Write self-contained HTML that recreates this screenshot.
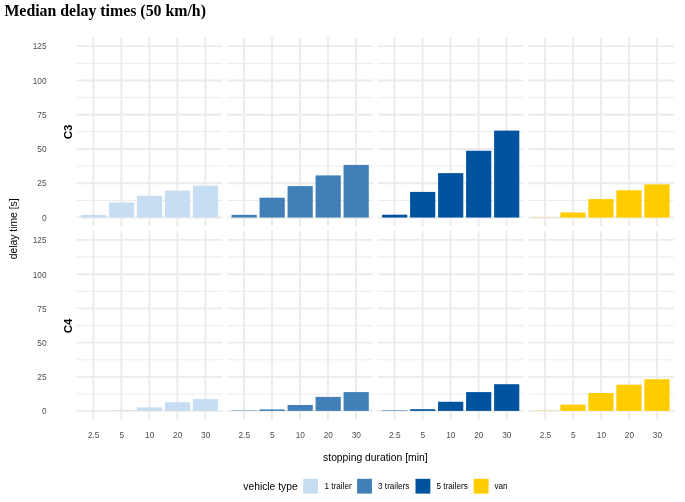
<!DOCTYPE html>
<html><head><meta charset="utf-8"><title>Median delay times (50 km/h)</title>
<style>html,body{margin:0;padding:0;background:#fff}svg{display:block;will-change:transform}</style></head>
<body>
<svg width="685" height="502" viewBox="0 0 685 502">
<rect width="685" height="502" fill="#fff"/>
<text x="4.4" y="16" font-family="'Liberation Serif',serif" font-weight="bold" font-size="15.85" fill="#000">Median delay times (50 km/h)</text>
<g><line x1="76.60" x2="222.25" y1="200.45" y2="200.45" stroke="#ebebeb" stroke-width="1.0"/><line x1="76.60" x2="222.25" y1="166.05" y2="166.05" stroke="#ebebeb" stroke-width="1.0"/><line x1="76.60" x2="222.25" y1="131.60" y2="131.60" stroke="#ebebeb" stroke-width="1.0"/><line x1="76.60" x2="222.25" y1="97.40" y2="97.40" stroke="#ebebeb" stroke-width="1.0"/><line x1="76.60" x2="222.25" y1="63.37" y2="63.37" stroke="#ebebeb" stroke-width="1.0"/><line x1="76.60" x2="222.25" y1="217.50" y2="217.50" stroke="#ebebeb" stroke-width="1.8"/><line x1="76.60" x2="222.25" y1="183.27" y2="183.27" stroke="#ebebeb" stroke-width="1.8"/><line x1="76.60" x2="222.25" y1="149.00" y2="149.00" stroke="#ebebeb" stroke-width="1.8"/><line x1="76.60" x2="222.25" y1="114.75" y2="114.75" stroke="#ebebeb" stroke-width="1.8"/><line x1="76.60" x2="222.25" y1="80.50" y2="80.50" stroke="#ebebeb" stroke-width="1.8"/><line x1="76.60" x2="222.25" y1="46.15" y2="46.15" stroke="#ebebeb" stroke-width="1.8"/><line x1="93.40" x2="93.40" y1="37.70" y2="226.50" stroke="#ebebeb" stroke-width="1.9"/><line x1="121.40" x2="121.40" y1="37.70" y2="226.50" stroke="#ebebeb" stroke-width="1.9"/><line x1="149.40" x2="149.40" y1="37.70" y2="226.50" stroke="#ebebeb" stroke-width="1.9"/><line x1="177.40" x2="177.40" y1="37.70" y2="226.50" stroke="#ebebeb" stroke-width="1.9"/><line x1="205.40" x2="205.40" y1="37.70" y2="226.50" stroke="#ebebeb" stroke-width="1.9"/><rect x="80.92" y="214.90" width="25.20" height="2.65" fill="#C7DDF2"/><rect x="108.92" y="202.40" width="25.20" height="15.15" fill="#C7DDF2"/><rect x="136.92" y="195.80" width="25.20" height="21.75" fill="#C7DDF2"/><rect x="164.92" y="190.60" width="25.20" height="26.95" fill="#C7DDF2"/><rect x="192.92" y="185.70" width="25.20" height="31.85" fill="#C7DDF2"/></g>
<g><line x1="227.17" x2="372.82" y1="200.45" y2="200.45" stroke="#ebebeb" stroke-width="1.0"/><line x1="227.17" x2="372.82" y1="166.05" y2="166.05" stroke="#ebebeb" stroke-width="1.0"/><line x1="227.17" x2="372.82" y1="131.60" y2="131.60" stroke="#ebebeb" stroke-width="1.0"/><line x1="227.17" x2="372.82" y1="97.40" y2="97.40" stroke="#ebebeb" stroke-width="1.0"/><line x1="227.17" x2="372.82" y1="63.37" y2="63.37" stroke="#ebebeb" stroke-width="1.0"/><line x1="227.17" x2="372.82" y1="217.50" y2="217.50" stroke="#ebebeb" stroke-width="1.8"/><line x1="227.17" x2="372.82" y1="183.27" y2="183.27" stroke="#ebebeb" stroke-width="1.8"/><line x1="227.17" x2="372.82" y1="149.00" y2="149.00" stroke="#ebebeb" stroke-width="1.8"/><line x1="227.17" x2="372.82" y1="114.75" y2="114.75" stroke="#ebebeb" stroke-width="1.8"/><line x1="227.17" x2="372.82" y1="80.50" y2="80.50" stroke="#ebebeb" stroke-width="1.8"/><line x1="227.17" x2="372.82" y1="46.15" y2="46.15" stroke="#ebebeb" stroke-width="1.8"/><line x1="243.97" x2="243.97" y1="37.70" y2="226.50" stroke="#ebebeb" stroke-width="1.9"/><line x1="271.97" x2="271.97" y1="37.70" y2="226.50" stroke="#ebebeb" stroke-width="1.9"/><line x1="299.97" x2="299.97" y1="37.70" y2="226.50" stroke="#ebebeb" stroke-width="1.9"/><line x1="327.97" x2="327.97" y1="37.70" y2="226.50" stroke="#ebebeb" stroke-width="1.9"/><line x1="355.97" x2="355.97" y1="37.70" y2="226.50" stroke="#ebebeb" stroke-width="1.9"/><rect x="231.57" y="214.80" width="25.20" height="2.75" fill="#407FB7"/><rect x="259.57" y="197.70" width="25.20" height="19.85" fill="#407FB7"/><rect x="287.57" y="186.10" width="25.20" height="31.45" fill="#407FB7"/><rect x="315.57" y="175.40" width="25.20" height="42.15" fill="#407FB7"/><rect x="343.57" y="164.90" width="25.20" height="52.65" fill="#407FB7"/></g>
<g><line x1="377.74" x2="523.39" y1="200.45" y2="200.45" stroke="#ebebeb" stroke-width="1.0"/><line x1="377.74" x2="523.39" y1="166.05" y2="166.05" stroke="#ebebeb" stroke-width="1.0"/><line x1="377.74" x2="523.39" y1="131.60" y2="131.60" stroke="#ebebeb" stroke-width="1.0"/><line x1="377.74" x2="523.39" y1="97.40" y2="97.40" stroke="#ebebeb" stroke-width="1.0"/><line x1="377.74" x2="523.39" y1="63.37" y2="63.37" stroke="#ebebeb" stroke-width="1.0"/><line x1="377.74" x2="523.39" y1="217.50" y2="217.50" stroke="#ebebeb" stroke-width="1.8"/><line x1="377.74" x2="523.39" y1="183.27" y2="183.27" stroke="#ebebeb" stroke-width="1.8"/><line x1="377.74" x2="523.39" y1="149.00" y2="149.00" stroke="#ebebeb" stroke-width="1.8"/><line x1="377.74" x2="523.39" y1="114.75" y2="114.75" stroke="#ebebeb" stroke-width="1.8"/><line x1="377.74" x2="523.39" y1="80.50" y2="80.50" stroke="#ebebeb" stroke-width="1.8"/><line x1="377.74" x2="523.39" y1="46.15" y2="46.15" stroke="#ebebeb" stroke-width="1.8"/><line x1="394.54" x2="394.54" y1="37.70" y2="226.50" stroke="#ebebeb" stroke-width="1.9"/><line x1="422.54" x2="422.54" y1="37.70" y2="226.50" stroke="#ebebeb" stroke-width="1.9"/><line x1="450.54" x2="450.54" y1="37.70" y2="226.50" stroke="#ebebeb" stroke-width="1.9"/><line x1="478.54" x2="478.54" y1="37.70" y2="226.50" stroke="#ebebeb" stroke-width="1.9"/><line x1="506.54" x2="506.54" y1="37.70" y2="226.50" stroke="#ebebeb" stroke-width="1.9"/><rect x="382.09" y="214.70" width="25.20" height="2.85" fill="#00549F"/><rect x="410.09" y="191.90" width="25.20" height="25.65" fill="#00549F"/><rect x="438.09" y="173.10" width="25.20" height="44.45" fill="#00549F"/><rect x="466.09" y="150.75" width="25.20" height="66.80" fill="#00549F"/><rect x="494.09" y="130.60" width="25.20" height="86.95" fill="#00549F"/></g>
<g><line x1="528.31" x2="673.96" y1="200.45" y2="200.45" stroke="#ebebeb" stroke-width="1.0"/><line x1="528.31" x2="673.96" y1="166.05" y2="166.05" stroke="#ebebeb" stroke-width="1.0"/><line x1="528.31" x2="673.96" y1="131.60" y2="131.60" stroke="#ebebeb" stroke-width="1.0"/><line x1="528.31" x2="673.96" y1="97.40" y2="97.40" stroke="#ebebeb" stroke-width="1.0"/><line x1="528.31" x2="673.96" y1="63.37" y2="63.37" stroke="#ebebeb" stroke-width="1.0"/><line x1="528.31" x2="673.96" y1="217.50" y2="217.50" stroke="#ebebeb" stroke-width="1.8"/><line x1="528.31" x2="673.96" y1="183.27" y2="183.27" stroke="#ebebeb" stroke-width="1.8"/><line x1="528.31" x2="673.96" y1="149.00" y2="149.00" stroke="#ebebeb" stroke-width="1.8"/><line x1="528.31" x2="673.96" y1="114.75" y2="114.75" stroke="#ebebeb" stroke-width="1.8"/><line x1="528.31" x2="673.96" y1="80.50" y2="80.50" stroke="#ebebeb" stroke-width="1.8"/><line x1="528.31" x2="673.96" y1="46.15" y2="46.15" stroke="#ebebeb" stroke-width="1.8"/><line x1="545.11" x2="545.11" y1="37.70" y2="226.50" stroke="#ebebeb" stroke-width="1.9"/><line x1="573.11" x2="573.11" y1="37.70" y2="226.50" stroke="#ebebeb" stroke-width="1.9"/><line x1="601.11" x2="601.11" y1="37.70" y2="226.50" stroke="#ebebeb" stroke-width="1.9"/><line x1="629.11" x2="629.11" y1="37.70" y2="226.50" stroke="#ebebeb" stroke-width="1.9"/><line x1="657.11" x2="657.11" y1="37.70" y2="226.50" stroke="#ebebeb" stroke-width="1.9"/><rect x="532.36" y="217.33" width="25.20" height="0.22" fill="#FFCC00"/><rect x="560.36" y="212.50" width="25.20" height="5.05" fill="#FFCC00"/><rect x="588.36" y="199.10" width="25.20" height="18.45" fill="#FFCC00"/><rect x="616.36" y="190.30" width="25.20" height="27.25" fill="#FFCC00"/><rect x="644.36" y="184.40" width="25.20" height="33.15" fill="#FFCC00"/></g>
<text x="46.6" y="220.50" text-anchor="end" font-family="'Liberation Sans',sans-serif" font-size="8.3" fill="#4d4d4d">0</text>
<text x="46.6" y="186.27" text-anchor="end" font-family="'Liberation Sans',sans-serif" font-size="8.3" fill="#4d4d4d">25</text>
<text x="46.6" y="152.00" text-anchor="end" font-family="'Liberation Sans',sans-serif" font-size="8.3" fill="#4d4d4d">50</text>
<text x="46.6" y="117.75" text-anchor="end" font-family="'Liberation Sans',sans-serif" font-size="8.3" fill="#4d4d4d">75</text>
<text x="46.6" y="83.50" text-anchor="end" font-family="'Liberation Sans',sans-serif" font-size="8.3" fill="#4d4d4d">100</text>
<text x="46.6" y="49.15" text-anchor="end" font-family="'Liberation Sans',sans-serif" font-size="8.3" fill="#4d4d4d">125</text>
<text transform="translate(72.2,131.90) rotate(-90)" text-anchor="middle" font-family="'Liberation Sans',sans-serif" font-weight="bold" font-size="11.5" fill="#000">C3</text>
<g><line x1="76.60" x2="222.25" y1="394.00" y2="394.00" stroke="#ebebeb" stroke-width="1.0"/><line x1="76.60" x2="222.25" y1="359.80" y2="359.80" stroke="#ebebeb" stroke-width="1.0"/><line x1="76.60" x2="222.25" y1="325.50" y2="325.50" stroke="#ebebeb" stroke-width="1.0"/><line x1="76.60" x2="222.25" y1="291.30" y2="291.30" stroke="#ebebeb" stroke-width="1.0"/><line x1="76.60" x2="222.25" y1="256.95" y2="256.95" stroke="#ebebeb" stroke-width="1.0"/><line x1="76.60" x2="222.25" y1="410.85" y2="410.85" stroke="#ebebeb" stroke-width="1.8"/><line x1="76.60" x2="222.25" y1="376.80" y2="376.80" stroke="#ebebeb" stroke-width="1.8"/><line x1="76.60" x2="222.25" y1="342.70" y2="342.70" stroke="#ebebeb" stroke-width="1.8"/><line x1="76.60" x2="222.25" y1="308.30" y2="308.30" stroke="#ebebeb" stroke-width="1.8"/><line x1="76.60" x2="222.25" y1="274.25" y2="274.25" stroke="#ebebeb" stroke-width="1.8"/><line x1="76.60" x2="222.25" y1="239.93" y2="239.93" stroke="#ebebeb" stroke-width="1.8"/><line x1="93.40" x2="93.40" y1="231.00" y2="419.90" stroke="#ebebeb" stroke-width="1.9"/><line x1="121.40" x2="121.40" y1="231.00" y2="419.90" stroke="#ebebeb" stroke-width="1.9"/><line x1="149.40" x2="149.40" y1="231.00" y2="419.90" stroke="#ebebeb" stroke-width="1.9"/><line x1="177.40" x2="177.40" y1="231.00" y2="419.90" stroke="#ebebeb" stroke-width="1.9"/><line x1="205.40" x2="205.40" y1="231.00" y2="419.90" stroke="#ebebeb" stroke-width="1.9"/><rect x="108.92" y="410.40" width="25.20" height="0.50" fill="#C7DDF2"/><rect x="136.92" y="407.40" width="25.20" height="3.50" fill="#C7DDF2"/><rect x="164.92" y="402.20" width="25.20" height="8.70" fill="#C7DDF2"/><rect x="192.92" y="399.10" width="25.20" height="11.80" fill="#C7DDF2"/></g>
<g><line x1="227.17" x2="372.82" y1="394.00" y2="394.00" stroke="#ebebeb" stroke-width="1.0"/><line x1="227.17" x2="372.82" y1="359.80" y2="359.80" stroke="#ebebeb" stroke-width="1.0"/><line x1="227.17" x2="372.82" y1="325.50" y2="325.50" stroke="#ebebeb" stroke-width="1.0"/><line x1="227.17" x2="372.82" y1="291.30" y2="291.30" stroke="#ebebeb" stroke-width="1.0"/><line x1="227.17" x2="372.82" y1="256.95" y2="256.95" stroke="#ebebeb" stroke-width="1.0"/><line x1="227.17" x2="372.82" y1="410.85" y2="410.85" stroke="#ebebeb" stroke-width="1.8"/><line x1="227.17" x2="372.82" y1="376.80" y2="376.80" stroke="#ebebeb" stroke-width="1.8"/><line x1="227.17" x2="372.82" y1="342.70" y2="342.70" stroke="#ebebeb" stroke-width="1.8"/><line x1="227.17" x2="372.82" y1="308.30" y2="308.30" stroke="#ebebeb" stroke-width="1.8"/><line x1="227.17" x2="372.82" y1="274.25" y2="274.25" stroke="#ebebeb" stroke-width="1.8"/><line x1="227.17" x2="372.82" y1="239.93" y2="239.93" stroke="#ebebeb" stroke-width="1.8"/><line x1="243.97" x2="243.97" y1="231.00" y2="419.90" stroke="#ebebeb" stroke-width="1.9"/><line x1="271.97" x2="271.97" y1="231.00" y2="419.90" stroke="#ebebeb" stroke-width="1.9"/><line x1="299.97" x2="299.97" y1="231.00" y2="419.90" stroke="#ebebeb" stroke-width="1.9"/><line x1="327.97" x2="327.97" y1="231.00" y2="419.90" stroke="#ebebeb" stroke-width="1.9"/><line x1="355.97" x2="355.97" y1="231.00" y2="419.90" stroke="#ebebeb" stroke-width="1.9"/><rect x="231.57" y="410.50" width="25.20" height="0.40" fill="#407FB7"/><rect x="259.57" y="409.40" width="25.20" height="1.50" fill="#407FB7"/><rect x="287.57" y="405.00" width="25.20" height="5.90" fill="#407FB7"/><rect x="315.57" y="396.90" width="25.20" height="14.00" fill="#407FB7"/><rect x="343.57" y="392.10" width="25.20" height="18.80" fill="#407FB7"/></g>
<g><line x1="377.74" x2="523.39" y1="394.00" y2="394.00" stroke="#ebebeb" stroke-width="1.0"/><line x1="377.74" x2="523.39" y1="359.80" y2="359.80" stroke="#ebebeb" stroke-width="1.0"/><line x1="377.74" x2="523.39" y1="325.50" y2="325.50" stroke="#ebebeb" stroke-width="1.0"/><line x1="377.74" x2="523.39" y1="291.30" y2="291.30" stroke="#ebebeb" stroke-width="1.0"/><line x1="377.74" x2="523.39" y1="256.95" y2="256.95" stroke="#ebebeb" stroke-width="1.0"/><line x1="377.74" x2="523.39" y1="410.85" y2="410.85" stroke="#ebebeb" stroke-width="1.8"/><line x1="377.74" x2="523.39" y1="376.80" y2="376.80" stroke="#ebebeb" stroke-width="1.8"/><line x1="377.74" x2="523.39" y1="342.70" y2="342.70" stroke="#ebebeb" stroke-width="1.8"/><line x1="377.74" x2="523.39" y1="308.30" y2="308.30" stroke="#ebebeb" stroke-width="1.8"/><line x1="377.74" x2="523.39" y1="274.25" y2="274.25" stroke="#ebebeb" stroke-width="1.8"/><line x1="377.74" x2="523.39" y1="239.93" y2="239.93" stroke="#ebebeb" stroke-width="1.8"/><line x1="394.54" x2="394.54" y1="231.00" y2="419.90" stroke="#ebebeb" stroke-width="1.9"/><line x1="422.54" x2="422.54" y1="231.00" y2="419.90" stroke="#ebebeb" stroke-width="1.9"/><line x1="450.54" x2="450.54" y1="231.00" y2="419.90" stroke="#ebebeb" stroke-width="1.9"/><line x1="478.54" x2="478.54" y1="231.00" y2="419.90" stroke="#ebebeb" stroke-width="1.9"/><line x1="506.54" x2="506.54" y1="231.00" y2="419.90" stroke="#ebebeb" stroke-width="1.9"/><rect x="382.09" y="410.50" width="25.20" height="0.40" fill="#00549F"/><rect x="410.09" y="409.20" width="25.20" height="1.70" fill="#00549F"/><rect x="438.09" y="401.75" width="25.20" height="9.15" fill="#00549F"/><rect x="466.09" y="392.10" width="25.20" height="18.80" fill="#00549F"/><rect x="494.09" y="384.20" width="25.20" height="26.70" fill="#00549F"/></g>
<g><line x1="528.31" x2="673.96" y1="394.00" y2="394.00" stroke="#ebebeb" stroke-width="1.0"/><line x1="528.31" x2="673.96" y1="359.80" y2="359.80" stroke="#ebebeb" stroke-width="1.0"/><line x1="528.31" x2="673.96" y1="325.50" y2="325.50" stroke="#ebebeb" stroke-width="1.0"/><line x1="528.31" x2="673.96" y1="291.30" y2="291.30" stroke="#ebebeb" stroke-width="1.0"/><line x1="528.31" x2="673.96" y1="256.95" y2="256.95" stroke="#ebebeb" stroke-width="1.0"/><line x1="528.31" x2="673.96" y1="410.85" y2="410.85" stroke="#ebebeb" stroke-width="1.8"/><line x1="528.31" x2="673.96" y1="376.80" y2="376.80" stroke="#ebebeb" stroke-width="1.8"/><line x1="528.31" x2="673.96" y1="342.70" y2="342.70" stroke="#ebebeb" stroke-width="1.8"/><line x1="528.31" x2="673.96" y1="308.30" y2="308.30" stroke="#ebebeb" stroke-width="1.8"/><line x1="528.31" x2="673.96" y1="274.25" y2="274.25" stroke="#ebebeb" stroke-width="1.8"/><line x1="528.31" x2="673.96" y1="239.93" y2="239.93" stroke="#ebebeb" stroke-width="1.8"/><line x1="545.11" x2="545.11" y1="231.00" y2="419.90" stroke="#ebebeb" stroke-width="1.9"/><line x1="573.11" x2="573.11" y1="231.00" y2="419.90" stroke="#ebebeb" stroke-width="1.9"/><line x1="601.11" x2="601.11" y1="231.00" y2="419.90" stroke="#ebebeb" stroke-width="1.9"/><line x1="629.11" x2="629.11" y1="231.00" y2="419.90" stroke="#ebebeb" stroke-width="1.9"/><line x1="657.11" x2="657.11" y1="231.00" y2="419.90" stroke="#ebebeb" stroke-width="1.9"/><rect x="532.36" y="410.68" width="25.20" height="0.22" fill="#FFCC00"/><rect x="560.36" y="404.60" width="25.20" height="6.30" fill="#FFCC00"/><rect x="588.36" y="393.00" width="25.20" height="17.90" fill="#FFCC00"/><rect x="616.36" y="384.70" width="25.20" height="26.20" fill="#FFCC00"/><rect x="644.36" y="379.20" width="25.20" height="31.70" fill="#FFCC00"/></g>
<text x="46.6" y="414.25" text-anchor="end" font-family="'Liberation Sans',sans-serif" font-size="8.3" fill="#4d4d4d">0</text>
<text x="46.6" y="380.20" text-anchor="end" font-family="'Liberation Sans',sans-serif" font-size="8.3" fill="#4d4d4d">25</text>
<text x="46.6" y="346.10" text-anchor="end" font-family="'Liberation Sans',sans-serif" font-size="8.3" fill="#4d4d4d">50</text>
<text x="46.6" y="311.70" text-anchor="end" font-family="'Liberation Sans',sans-serif" font-size="8.3" fill="#4d4d4d">75</text>
<text x="46.6" y="277.65" text-anchor="end" font-family="'Liberation Sans',sans-serif" font-size="8.3" fill="#4d4d4d">100</text>
<text x="46.6" y="243.33" text-anchor="end" font-family="'Liberation Sans',sans-serif" font-size="8.3" fill="#4d4d4d">125</text>
<text transform="translate(72.2,325.85) rotate(-90)" text-anchor="middle" font-family="'Liberation Sans',sans-serif" font-weight="bold" font-size="11.5" fill="#000">C4</text>
<text x="93.70" y="437.9" text-anchor="middle" font-family="'Liberation Sans',sans-serif" font-size="8.3" fill="#4d4d4d">2.5</text>
<text x="121.70" y="437.9" text-anchor="middle" font-family="'Liberation Sans',sans-serif" font-size="8.3" fill="#4d4d4d">5</text>
<text x="149.70" y="437.9" text-anchor="middle" font-family="'Liberation Sans',sans-serif" font-size="8.3" fill="#4d4d4d">10</text>
<text x="177.70" y="437.9" text-anchor="middle" font-family="'Liberation Sans',sans-serif" font-size="8.3" fill="#4d4d4d">20</text>
<text x="205.70" y="437.9" text-anchor="middle" font-family="'Liberation Sans',sans-serif" font-size="8.3" fill="#4d4d4d">30</text>
<text x="244.27" y="437.9" text-anchor="middle" font-family="'Liberation Sans',sans-serif" font-size="8.3" fill="#4d4d4d">2.5</text>
<text x="272.27" y="437.9" text-anchor="middle" font-family="'Liberation Sans',sans-serif" font-size="8.3" fill="#4d4d4d">5</text>
<text x="300.27" y="437.9" text-anchor="middle" font-family="'Liberation Sans',sans-serif" font-size="8.3" fill="#4d4d4d">10</text>
<text x="328.27" y="437.9" text-anchor="middle" font-family="'Liberation Sans',sans-serif" font-size="8.3" fill="#4d4d4d">20</text>
<text x="356.27" y="437.9" text-anchor="middle" font-family="'Liberation Sans',sans-serif" font-size="8.3" fill="#4d4d4d">30</text>
<text x="394.84" y="437.9" text-anchor="middle" font-family="'Liberation Sans',sans-serif" font-size="8.3" fill="#4d4d4d">2.5</text>
<text x="422.84" y="437.9" text-anchor="middle" font-family="'Liberation Sans',sans-serif" font-size="8.3" fill="#4d4d4d">5</text>
<text x="450.84" y="437.9" text-anchor="middle" font-family="'Liberation Sans',sans-serif" font-size="8.3" fill="#4d4d4d">10</text>
<text x="478.84" y="437.9" text-anchor="middle" font-family="'Liberation Sans',sans-serif" font-size="8.3" fill="#4d4d4d">20</text>
<text x="506.84" y="437.9" text-anchor="middle" font-family="'Liberation Sans',sans-serif" font-size="8.3" fill="#4d4d4d">30</text>
<text x="545.41" y="437.9" text-anchor="middle" font-family="'Liberation Sans',sans-serif" font-size="8.3" fill="#4d4d4d">2.5</text>
<text x="573.41" y="437.9" text-anchor="middle" font-family="'Liberation Sans',sans-serif" font-size="8.3" fill="#4d4d4d">5</text>
<text x="601.41" y="437.9" text-anchor="middle" font-family="'Liberation Sans',sans-serif" font-size="8.3" fill="#4d4d4d">10</text>
<text x="629.41" y="437.9" text-anchor="middle" font-family="'Liberation Sans',sans-serif" font-size="8.3" fill="#4d4d4d">20</text>
<text x="657.41" y="437.9" text-anchor="middle" font-family="'Liberation Sans',sans-serif" font-size="8.3" fill="#4d4d4d">30</text>
<text x="375.35" y="460.6" text-anchor="middle" font-family="'Liberation Sans',sans-serif" font-size="10.33" fill="#000">stopping duration [min]</text>
<text transform="translate(17.35,228.85) rotate(-90)" text-anchor="middle" font-family="'Liberation Sans',sans-serif" font-size="10.35" fill="#000">delay time [s]</text>
<text x="243.3" y="489.9" font-family="'Liberation Sans',sans-serif" font-size="10.3" fill="#000">vehicle type</text>
<rect x="303.2" y="478.8" width="14.85" height="14.8" fill="#C7DDF2"/>
<text x="324.6" y="489.1" font-family="'Liberation Sans',sans-serif" font-size="8.15" fill="#000">1 trailer</text>
<rect x="357.1" y="478.8" width="14.85" height="14.8" fill="#407FB7"/>
<text x="378.1" y="489.1" font-family="'Liberation Sans',sans-serif" font-size="8.15" fill="#000">3 trailers</text>
<rect x="415.5" y="478.8" width="14.85" height="14.8" fill="#00549F"/>
<text x="436.6" y="489.1" font-family="'Liberation Sans',sans-serif" font-size="8.15" fill="#000">5 trailers</text>
<rect x="473.7" y="478.8" width="14.85" height="14.8" fill="#FFCC00"/>
<text x="494.4" y="489.1" font-family="'Liberation Sans',sans-serif" font-size="8.15" fill="#000">van</text>
</svg>
</body></html>
